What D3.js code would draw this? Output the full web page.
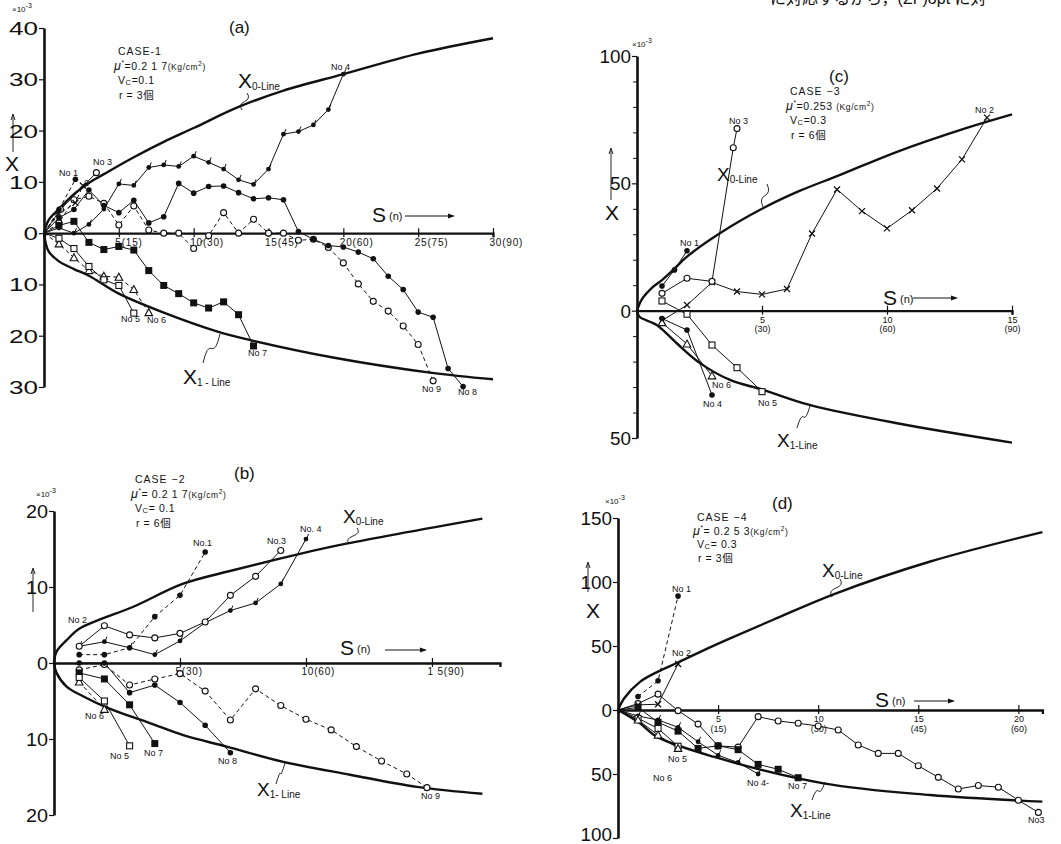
<!DOCTYPE html>
<html><head><meta charset="utf-8">
<script src="https://cdn.jsdelivr.net/npm/d3@7"></script>
<style>
body{margin:0;background:#fff}
svg{display:block;background:#fff}
text{font-family:"Liberation Sans",Arial,"Noto Sans CJK JP",sans-serif;fill:#111}
</style>
</head><body>
<svg id="c" width="1061" height="844"></svg>
<script>
// ---------------- DATA (S, X×10^-3) ----------------
// Panel (a) CASE-1
const a_x0 = [[0,0],[0.3,2.5],[1,4.7],[2,7.6],[3,9.8],[4,11.5],[6,14.8],[8,17.8],[10,20.5],[13,24.6],[16,27.8],[20,31],[25,35],[30,38]];
const a_x1 = [[0,0],[0.3,-3.5],[1,-5.5],[2,-7],[3,-8.3],[5,-11.8],[8,-15.5],[11.6,-19.2],[14,-21],[19.4,-24.3],[25.8,-27.2],[30,-28.5]];
const a_no1 = [[0,0],[1,4.6],[2.1,10.5]];
const a_no2 = [[0,0],[1,3.8],[2.1,5.9],[2.6,9.3]];
const a_no3 = [[0,0],[1.1,4.6],[3.5,11.8]];
const a_no4 = [[0,0],[1,1],[2,0],[3,1.7],[4,4.7],[5,9.6],[6,9.3],[7,12.8],[8,13.3],[9,13],[10,15],[11,13.8],[12,12.5],[13,10.4],[14,9.5],[15,12.5],[16,19.3],[17,19.8],[18,21.1],[19,24.1],[20,31]];
const a_no5 = [[0,0],[1,-1],[2,-3],[3,-6.5],[4,-9.1],[5,-10.2],[6,-15.6]];
const a_no6 = [[0,0],[1,-2.1],[2,-4.8],[3,-7.3],[4,-8.4],[5,-8.6],[6,-11],[7,-15.5]];
const a_no7 = [[0,0],[1,1.5],[2,2.3],[3,-1.8],[4,-3.2],[5,-2.6],[6,-3.3],[7,-7.3],[8,-10.2],[9,-11.8],[10,-13.6],[11,-14.6],[12,-13.4],[13,-15.9],[14,-22]];
const a_no8 = [[0,0],[1,3],[2,4.6],[3,8.4],[4,5.4],[5,4],[6,6.4],[7,2],[8,3.2],[9,9.7],[10,7.8],[11,9.1],[12,9.2],[13,7.9],[14,6.7],[15,6.9],[16,6.5],[17,0.3],[18,-1.2],[19,-2.4],[20,-2.7],[21,-3.7],[22,-5],[23,-8.4],[24,-11],[25,-15.4],[26,-16.4],[27,-26.4],[28,-29.9]];
const a_no9 = [[0,0],[1,2],[2,6.5],[3,7.2],[4,5.8],[5,1.6],[6,5.3],[7,0.6],[8,0],[9,0],[10,-3],[11,-0.5],[12,4],[13,0],[14,2.7],[15,0],[16,0],[17,-1.4],[18,-1.2],[19,-2.8],[20,-5.8],[21,-9.9],[22,-13.3],[23,-15.2],[24,-18.1],[25,-21.7],[26,-28.8]];
const a_yTicks = [40,30,20,10,0,-10,-20,-30];
const a_xTicks = [5,10,15,20,25,30];
const a_xTickLabels = ['5(15)','10(30)','15(45)','20(60)','25(75)','30(90)'];

// Panel (b) CASE-2
const b_x0 = [[0,0],[0.1,1.5],[0.5,3],[1,4.5],[1.8,5.7],[3.15,7.4],[5.1,10.4],[7.1,12.2],[9.8,14.4],[11.6,15.7],[17,19]];
const b_x1 = [[0,0],[0.1,-1.3],[0.5,-3.1],[1.17,-4.4],[2.2,-6],[3.8,-7.9],[5.13,-9.5],[6.85,-11],[9.1,-13],[11.75,-14.7],[14.4,-16.3],[17,-17.2]];
const b_no1 = [[1,1.1],[2,1.1],[3,2.0],[4,6.1],[5,8.9],[6,14.6]];
const b_no3 = [[1,2.2],[2,4.9],[3,3.7],[4,3.3],[5,3.9],[6,5.4],[7,8.9],[8,11.4],[9,14.8]];
const b_no4 = [[1,2.2],[2,2.8],[3,2.0],[4,1.1],[5,2.9],[6,5.3],[7,6.9],[8,7.9],[9,10.4],[10,16.3]];
const b_no5 = [[1,-1.9],[2,-5],[3,-10.9]];
const b_no6 = [[1,-2.5],[2,-6.1]];
const b_no7 = [[1,-1.3],[2,-2.1],[3,-5.5],[4,-10.6]];
const b_no8 = [[1,0],[2,0],[3,-3.9],[4,-2.9],[5,-5.2],[6,-8.2],[7,-11.8]];
const b_no9 = [[1,-0.9],[2,-0.2],[3,-2.9],[4,-2.1],[5,-1.4],[6,-3.7],[7,-7.5],[8,-3.4],[9,-5.6],[10,-7.4],[11,-8.8],[12,-11],[13,-12.9],[14,-14.6],[14.8,-16.4]];
const b_yTicks = [20,10,0,-10,-20];
const b_xTicks = [5,10,15];
const b_xTickLabels = ['5(30)','10(60)','1 5(90)'];

// Panel (c) CASE-3
const c_x0 = [[0,0],[0.2,4.5],[0.65,9.4],[1,12],[1.45,16],[2,21.2],[3.3,30.3],[5,40],[6.5,47],[8.1,53.2],[10.4,62.4],[13.1,71.5],[15,77.1]];
const c_x1 = [[0,0],[0.1,-2.4],[0.79,-5.6],[1.59,-12.8],[2.52,-20.6],[3.72,-27.2],[5.05,-31.1],[6.9,-37],[10.4,-44.2],[15,-51.8]];
const c_no1 = [[1,9.7],[1.5,16],[2,23.5]];
const c_no2 = [[1,-3.9],[2,2.2],[3,11.1],[4,7.5],[5,6.4],[6,8.5],[7,30.3],[8,47.6],[9,39.1],[10,32.3],[11,39.4],[12,48],[13,59.4],[14,75.8]];
const c_no3 = [[1,6.8],[2,12.7],[3,11.5],[3.85,64],[4,71.5]];
const c_no4 = [[1,-3.1],[2,-7.6],[3,-33.1]];
const c_no5 = [[1,3.8],[2,-1.4],[3,-13.5],[4,-22.4],[5,-31.8]];
const c_no6 = [[1,-4.7],[2,-13.1],[3,-25.6]];
const c_yTicks = [100,50,0,-50];
const c_yMinor = [90,80,70,60,40,30,20,10,-10,-20,-30,-40];
const c_xTicks = [5,10,15];
const c_xTickLabels = [['5','(30)'],['10','(60)'],['15','(90)']];

// Panel (d) CASE-4
const d_x0 = [[0,0],[0.3,9],[1.1,22],[2,30],[2.9,36.5],[4.43,47.8],[5.6,56],[7.75,70.5],[10.8,90.6],[15.6,116],[21.2,139]];
const d_x1 = [[0,0],[1.1,-10.4],[1.93,-20.8],[4.77,-36.5],[10.27,-57.3],[15.6,-66.4],[21.2,-71.6]];
const d_no1 = [[1,10.5],[2,22.8],[3,89]];
const d_no2 = [[0,0],[1,4],[2,4.5],[3,36]];
const d_no3 = [[0,0],[1,5],[2,12.4],[3,-0.5],[4,-11],[5,-28],[6,-29],[7,-5.2],[8,-8.6],[9,-10.4],[10,-12.5],[11,-15.6],[12,-27.3],[13,-33.9],[14,-33.9],[15,-43.6],[16,-52.6],[17,-61.7],[18,-59],[19,-60.3],[20,-70.5],[21,-80]];
const d_no4 = [[0,0],[1,-4.7],[2,-7.8],[3,-13.5],[4,-24.8],[5,-35.4],[6,-41],[7,-50]];
const d_no5 = [[0,0],[1,-6.5],[2,-14.4],[3,-28.3]];
const d_no6 = [[0,0],[1,-7.8],[2,-19.6],[3,-30]];
const d_no7 = [[0,0],[1,2],[2,-9.6],[3,-16.5],[4,-30],[5,-28],[6,-31],[7,-42.5],[8,-46.3],[9,-52.9]];
const d_yTicks = [150,100,50,0,-50,-100];
const d_xTicks = [5,10,15,20];
const d_xTickLabels = [['5','(15)'],['10','(30)'],['15','(45)'],['20','(60)']];

// ---------------- DRAWING ----------------
const svg = d3.select('#c');
const INK = '#111';

function marker(g, type, cx, cy){
  if(type==='fc'){ g.append('circle').attr('cx',cx).attr('cy',cy).attr('r',2.8).attr('fill',INK); }
  else if(type==='oc'){ g.append('circle').attr('cx',cx).attr('cy',cy).attr('r',3).attr('fill','#fff').attr('stroke',INK).attr('stroke-width',1.1); }
  else if(type==='os'){ g.append('rect').attr('x',cx-3).attr('y',cy-3).attr('width',6).attr('height',6).attr('fill','#fff').attr('stroke',INK).attr('stroke-width',1.1); }
  else if(type==='fs'){ g.append('rect').attr('x',cx-3.5).attr('y',cy-3.5).attr('width',7).attr('height',7).attr('fill',INK); }
  else if(type==='ot'){ g.append('path').attr('d',`M${cx},${cy-4}L${cx+3.8},${cy+3}L${cx-3.8},${cy+3}Z`).attr('fill','#fff').attr('stroke',INK).attr('stroke-width',1.1); }
  else if(type==='tk'){ g.append('circle').attr('cx',cx).attr('cy',cy).attr('r',2.4).attr('fill',INK);
    g.append('line').attr('x1',cx+0.5).attr('y1',cy).attr('x2',cx+2.5).attr('y2',cy-5).attr('stroke',INK).attr('stroke-width',1); }
  else if(type==='x'){ g.append('path').attr('d',`M${cx-3},${cy-3}L${cx+3},${cy+3}M${cx+3},${cy-3}L${cx-3},${cy+3}`).attr('stroke',INK).attr('stroke-width',1.3); }
}

function txt(g, s, x, y, size, opts={}){
  const t = g.append('text').attr('x',x).attr('y',y).attr('font-size',size).text(s);
  if(opts.anchor) t.attr('text-anchor',opts.anchor);
  if(opts.ls) t.attr('letter-spacing',opts.ls);
  return t;
}

function upArrow(g, x, y1, y2){
  g.append('line').attr('x1',x).attr('x2',x).attr('y1',y1).attr('y2',y2+2).attr('stroke',INK).attr('stroke-width',0.9);
  g.append('path').attr('d',`M${x-2},${y2+6}L${x},${y2}L${x+2},${y2+6}`).attr('fill','none').attr('stroke',INK).attr('stroke-width',0.9);
}
function rightArrow(g, x1, x2, y){
  g.append('line').attr('x1',x1).attr('x2',x2-2).attr('y1',y).attr('y2',y).attr('stroke',INK).attr('stroke-width',1);
  g.append('path').attr('d',`M${x2-7},${y-2.5}L${x2},${y}L${x2-7},${y+2.5}Z`).attr('fill',INK);
}

function lineLabel(g, sub, x, y, big, small){
  const t = g.append('text').attr('x',x).attr('y',y).attr('font-size',big).text('X');
  t.append('tspan').attr('font-size',small).attr('dy',2).text(sub);
}

function leader(g, x1, y1, x2, y2){
  const mx=(x1+x2)/2, my=(y1+y2)/2;
  g.append('path').attr('d',`M${x1},${y1}Q${x1+4},${my-3} ${mx},${my}T${x2},${y2}`)
   .attr('fill','none').attr('stroke',INK).attr('stroke-width',0.9);
}

function caseBlock(g, lines, x, y0, gap, size){
  txt(g, lines[0], x, y0, size, {ls:1});
  const m = g.append('text').attr('x',x-4).attr('y',y0+gap).attr('font-size',size).attr('letter-spacing',0.6);
  m.append('tspan').attr('font-style','italic').attr('font-size',size+2).text('μ');
  m.append('tspan').attr('font-size',size-4).attr('dy',-5).text('*');
  m.append('tspan').attr('dy',5).text(lines[1]);
  m.append('tspan').attr('font-size',size-2).text('(Kg/cm');
  m.append('tspan').attr('font-size',size-4).attr('dy',-4).text('2');
  m.append('tspan').attr('font-size',size-2).attr('dy',4).text(')');
  const v = g.append('text').attr('x',x).attr('y',y0+2*gap).attr('font-size',size).attr('letter-spacing',0.6);
  v.append('tspan').text('V');
  v.append('tspan').attr('font-size',size-3).attr('dy',1).text('C');
  v.append('tspan').attr('dy',-1).text(lines[2]);
  txt(g, lines[3], x+1, y0+3*gap, size, {ls:0.6});
}

function drawPanel(P){
  const g = svg.append('g');
  const x = d3.scaleLinear().domain(P.xd).range(P.xr);
  const y = d3.scaleLinear().domain(P.yd).range(P.yr);

  if(P.yMinor){
    g.append('g').attr('transform',`translate(${x(0)},0)`)
     .call(d3.axisLeft(y).tickValues(P.yMinor).tickSize(4).tickFormat(''))
     .call(s=>{s.select('.domain').remove(); s.selectAll('line').attr('stroke',INK).attr('stroke-width',1);});
  }
  const ya = g.append('g').attr('transform',`translate(${x(0)},0)`)
    .call(d3.axisLeft(y).tickValues(P.yTicks).tickSize(5).tickSizeOuter(0).tickPadding(1).tickFormat(d=>Math.abs(d)));
  ya.select('.domain').attr('stroke',INK).attr('stroke-width',2.6);
  ya.selectAll('.tick line').attr('stroke',INK).attr('stroke-width',1.2);
  ya.selectAll('.tick text').attr('font-size',P.ySize).attr('fill',INK)
    .attr('font-family','"Liberation Sans",Arial,sans-serif')
    .attr('transform',`scale(${P.yStretch},1)`).attr('x',-6/P.yStretch)
    .attr('dy',d=> (P.yLowShift && d===P.yd[0]) ? '0.12em' : '0.36em');

  const xa = g.append('g').attr('transform',`translate(0,${y(0)})`)
    .call(d3.axisBottom(x).tickValues(P.xTicks).tickSizeOuter(0).tickSize(4).tickFormat(''));
  xa.select('.domain').attr('stroke',INK).attr('stroke-width',2.3);
  xa.selectAll('.tick line').attr('stroke',INK).attr('stroke-width',1.2).attr('y1',-5).attr('y2',4);
  xa.selectAll('.tick').each(function(d,i){
    const tk = d3.select(this);
    const lab = P.xLabels[i];
    if(Array.isArray(lab)){
      tk.append('text').attr('text-anchor','middle').attr('y',P.xLabY[0]).attr('font-size',P.xLabSize).attr('fill',INK).text(lab[0]);
      tk.append('text').attr('text-anchor','middle').attr('y',P.xLabY[1]).attr('font-size',P.xLabSize).attr('fill',INK).text(lab[1]);
    } else {
      tk.append('text').attr('text-anchor','start').attr('x',P.xLabDx).attr('y',P.xLabY).attr('font-size',P.xLabSize)
        .attr('letter-spacing',0.8).attr('fill',INK).text(lab);
    }
  });

  const line = d3.line().x(d=>x(d[0])).y(d=>y(d[1]));
  const curve = d3.line().x(d=>x(d[0])).y(d=>y(d[1])).curve(d3.curveCatmullRom.alpha(0.5));
  P.curves.forEach(c=>{
    g.append('path').datum(c).attr('d',curve).attr('fill','none').attr('stroke',INK).attr('stroke-width',2.4);
  });

  P.series.forEach(s=>{
    g.append('path').datum(s.data).attr('d',line).attr('fill','none').attr('stroke',INK)
      .attr('stroke-width',1).attr('stroke-dasharray',s.dash?'4,3':null);
  });
  P.series.forEach(s=>{
    s.data.forEach(d=>{ if(d[0]===0 && d[1]===0) return; marker(g, s.m, x(d[0]), y(d[1])); });
  });

  P.labels.forEach(l=> txt(g, l[0], l[1], l[2], P.noSize));
  return g;
}

drawPanel({
  xd:[0,30], xr:[44,493], yd:[-30,40], yr:[387,28],
  yTicks:a_yTicks, ySize:18, yStretch:1.45,
  xTicks:a_xTicks, xLabels:a_xTickLabels, xLabDx:-4, xLabY:13, xLabSize:10,
  curves:[a_x0,a_x1],
  series:[
    {data:a_no9,m:'oc',dash:true},{data:a_no8,m:'fc'},{data:a_no7,m:'fs'},{data:a_no6,m:'ot',dash:true},
    {data:a_no5,m:'os'},{data:a_no4,m:'tk'},{data:a_no2,m:'x',dash:true},{data:a_no3,m:'oc'},{data:a_no1,m:'fc',dash:true}
  ],
  labels:[['No 1',59,176],['No 3',93,165],['2',84,186],['No 4',331,70],['No 5',121,322],['No 6',147,323],
          ['No 7',248,356],['No 9',422,392],['No 8',458,395]],
  noSize:9
});
drawPanel({
  xd:[0,17.7], xr:[54,500], yd:[-20,20], yr:[815,511],
  yTicks:b_yTicks, ySize:18, yStretch:1.1,
  xTicks:b_xTicks, xLabels:b_xTickLabels, xLabDx:-5, xLabY:12, xLabSize:10,
  curves:[b_x0,b_x1],
  series:[
    {data:b_no9,m:'oc',dash:true},{data:b_no8,m:'fc'},{data:b_no7,m:'fs'},{data:b_no6,m:'ot',dash:true},
    {data:b_no5,m:'os'},{data:b_no4,m:'tk'},{data:b_no3,m:'oc'},{data:b_no1,m:'fc',dash:true}
  ],
  labels:[['No 2',68,623],['No.1',193,546],['No.3',267,544],['No. 4',300,532],['No 6',85,719],
          ['No 5',110,759],['No 7',144,756],['No 8',218,764],['No 9',421,799]],
  noSize:9
});
drawPanel({
  xd:[0,15], xr:[637,1012], yd:[-50,100], yr:[438,56],
  yTicks:c_yTicks, yMinor:c_yMinor, ySize:18, yStretch:1.05,
  xTicks:c_xTicks, xLabels:c_xTickLabels, xLabY:[12,21], xLabSize:9,
  curves:[c_x0,c_x1],
  series:[
    {data:c_no2,m:'x'},{data:c_no3,m:'oc'},{data:c_no5,m:'os'},{data:c_no6,m:'ot'},
    {data:c_no4,m:'fc'},{data:c_no1,m:'fc'}
  ],
  labels:[['No 3',729,124],['No 2',975,113],['No 1',680,246],['No 6',712,388],['No 4',703,407],['No 5',758,406]],
  noSize:9
});
drawPanel({
  xd:[0,21.2], xr:[618,1042.4], yd:[-100,150], yr:[838,518],
  yTicks:d_yTicks, ySize:18, yStretch:1.05, yLowShift:true,
  xTicks:d_xTicks, xLabels:d_xTickLabels, xLabY:[12,22], xLabSize:9,
  curves:[d_x0,d_x1],
  series:[
    {data:d_no3,m:'oc'},{data:d_no7,m:'fs'},{data:d_no4,m:'tk'},{data:d_no5,m:'os'},{data:d_no6,m:'ot'},
    {data:d_no2,m:'x'},{data:d_no1,m:'fc',dash:true}
  ],
  labels:[['No 1',672,592],['No 2',672,656],['No 5',668,762],['No 6',653,781],['No 4-',747,786],['No 7',788,789],['No3',1028,823]],
  noSize:9
});

// ---- annotations ----
const ann = svg.append('g');
function e3(x,y){ const t=ann.append('text').attr('x',x).attr('y',y).attr('font-size',8).text('×10');
  t.append('tspan').attr('dy',-4).attr('font-size',7).text('-3'); }
e3(12,12); e3(36,497); e3(632,47); e3(605,504);

txt(ann,'(a)',229,33,17); txt(ann,'(b)',234,479,17); txt(ann,'(c)',829,82,17); txt(ann,'(d)',772,509,17);

caseBlock(ann,['CASE-1','=0.2 1 7','=0.1','r = 3個'],118,55,14.5,10.5);
caseBlock(ann,['CASE −2','= 0.2 1 7','= 0.1','r =  6個'],135,483,14.5,10.5);
caseBlock(ann,['CASE −3','=0.253 ','=0.3','r = 6個'],790,95,14.5,10.5);
caseBlock(ann,['CASE −4','= 0.2 5 3','= 0.3','r = 3個'],697,521,13.5,10.5);

lineLabel(ann,'0-Line',238,88,21,10); leader(ann,247,93,242,110);
lineLabel(ann,'1 - Line',183,384,21,10); leader(ann,203,363,220,334);
lineLabel(ann,'0-Line',343,523,19,10); leader(ann,357,528,349,544);
lineLabel(ann,'1- Line',257,796,19,10); leader(ann,276,784,285,763);
lineLabel(ann,'0-Line',717,181,19,10); leader(ann,767,184,763,207);
lineLabel(ann,'1-Line',777,447,19,10); leader(ann,797,428,810,406);
lineLabel(ann,'0-Line',822,577,19,10); leader(ann,840,579,832,597);
lineLabel(ann,'1-Line',790,817,19,10); leader(ann,812,800,825,782);

function sLabel(x,y,ax1,ax2,ay){ const t=txt(ann,'S',x,y,21); t.append('tspan').attr('font-size',11).attr('dx',3).attr('dy',-2).text('(n)');
  rightArrow(ann,ax1,ax2,ay); }
sLabel(372,222,405,455,216);
sLabel(340,655,385,427,650);
sLabel(883,305,913,958,298);
sLabel(875,707,914,955,701);

txt(ann,'X',5,171,21); upArrow(ann,13,152,114);
upArrow(ann,33,612,568);
txt(ann,'X',605,220,21); upArrow(ann,611,200,148);
txt(ann,'X',586,618,21); upArrow(ann,588,592,562);

txt(ann,'に対応するから，(ΣF)opt に対',770,4,16);
</script>
</body></html>
